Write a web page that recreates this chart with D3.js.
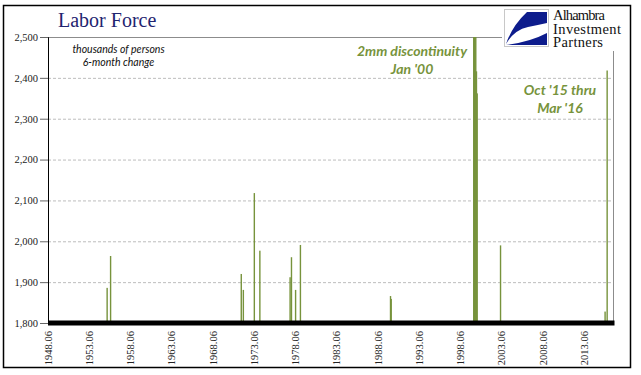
<!DOCTYPE html>
<html>
<head>
<meta charset="utf-8">
<script src="https://cdn.jsdelivr.net/npm/d3@7"></script>
<style>
  body { margin: 0; background: #fff; }
  svg { display: block; }
</style>
</head>
<body>
<svg id="chart" width="641" height="375"></svg>
<script>
// 6-month change in labor force (thousands), only months above 1,800 are visible
const months = [
  '1955-08', '1956-01', '1971-11', '1972-02', '1973-06', '1974-02',
  '1977-10', '1977-12', '1978-06', '1979-01', '1989-12', '1990-01',
  '2000-01', '2000-02', '2000-03', '2000-04', '2000-05', '2000-06',
  '2003-04', '2015-12', '2016-03'
]
const values = [
  1886, 1964, 1920, 1881, 2118, 1977,
  1912, 1961, 1881, 1991, 1866, 1859,
  2900, 2850, 2700, 2600, 2416, 2362,
  1990, 1828, 2418
]
const yTicks = [1800, 1900, 2000, 2100, 2200, 2300, 2400, 2500]
const xTickYears = [1948, 1953, 1958, 1963, 1968, 1973, 1978, 1983, 1988, 1993, 1998, 2003, 2008, 2013]
const annotations = [
  { lines: ['2mm discontinuity', "Jan '00"], x: 412, y: 56 },
  { lines: ["Oct '15 thru", "Mar '16"], x: 560, y: 95 },
]
const logoLines = ['Alhambra', 'Investment', 'Partners']

const parseMonth = d3.timeParse('%Y-%m')
const data = months.map((m, i) => ({ date: parseMonth(m), value: values[i] }))

const svg = d3.select('#chart')
const green = '#77933c'
const serif = '"Liberation Serif", "DejaVu Serif", serif'

const plot = { left: 48, right: 613, top: 37, bottom: 323 }

const x = d3.scaleTime()
  .domain([new Date(1948, 5, 1), new Date(2016, 10, 15)])
  .range([plot.left, plot.right])

const y = d3.scaleLinear()
  .domain([1800, 2500])
  .range([plot.bottom, plot.top])

// outer frame
svg.append('rect')
  .attr('x', 3.5).attr('y', 5.5)
  .attr('width', 627).attr('height', 362)
  .attr('fill', '#fff')
  .attr('stroke', '#000')
  .attr('stroke-width', 1.5)

// gridlines
svg.append('g')
  .attr('id', 'grid')
  .selectAll('line')
  .data(yTicks.filter((d) => d > 1800 && d < 2500))
  .join('line')
  .attr('x1', plot.left).attr('x2', plot.right)
  .attr('y1', (d) => y(d) + 0.5).attr('y2', (d) => y(d) + 0.5)
  .attr('stroke', '#bdbdbd')
  .attr('stroke-dasharray', '3,2')

// plot border top + right
svg.append('path')
  .attr('d', `M${plot.left},${plot.top + 0.5}H${plot.right + 0.5}V${plot.bottom}`)
  .attr('fill', 'none')
  .attr('stroke', '#8c8c8c')

// bars
svg.append('clipPath').attr('id', 'clip')
  .append('rect')
  .attr('x', plot.left).attr('y', plot.top)
  .attr('width', plot.right - plot.left).attr('height', plot.bottom - plot.top)

svg.append('g')
  .attr('id', 'bars')
  .attr('clip-path', 'url(#clip)')
  .selectAll('rect')
  .data(data)
  .join('rect')
  .attr('x', (d) => x(d.date) - 0.7)
  .attr('width', 1.4)
  .attr('y', (d) => y(d.value))
  .attr('height', (d) => y(1800) - y(d.value))
  .attr('fill', green)

// y axis
const yAxis = svg.append('g')
  .attr('id', 'yAxis')
  .attr('transform', `translate(${plot.left},0)`)
  .call(d3.axisLeft(y).tickValues(yTicks).tickSize(8).tickPadding(2).tickFormat(d3.format(',')))
yAxis.select('.domain').attr('stroke', '#000')
yAxis.selectAll('.tick line').attr('stroke', '#666')
yAxis.selectAll('text')
  .attr('font-family', serif)
  .attr('font-size', 10.5)
  .attr('fill', '#222')

// thick baseline
svg.append('rect')
  .attr('x', plot.left).attr('y', y(1800) - 2.5)
  .attr('width', plot.right - plot.left + 1.5).attr('height', 5)
  .attr('fill', '#000')

// x axis labels
svg.append('g')
  .attr('id', 'xAxis')
  .selectAll('text')
  .data(xTickYears.map((yr) => new Date(yr, 5, 1)))
  .join('text')
  .attr('transform', (d) => `translate(${x(d) + 3.5},${plot.bottom + 8}) rotate(-90)`)
  .attr('text-anchor', 'end')
  .attr('font-family', serif)
  .attr('font-size', 10.5)
  .attr('fill', '#222')
  .text(d3.timeFormat('%Y.%m'))

// title
svg.append('text')
  .attr('x', 58).attr('y', 27)
  .attr('font-family', serif)
  .attr('font-size', 20)
  .attr('fill', '#1f2470')
  .text('Labor Force')

// subtitle
svg.append('g')
  .selectAll('text')
  .data(['thousands of persons', '6-month change'])
  .join('text')
  .attr('x', 118.5)
  .attr('y', (d, i) => 53 + i * 12.5)
  .attr('text-anchor', 'middle')
  .attr('font-family', 'Lato, "Open Sans", sans-serif')
  .attr('font-style', 'italic')
  .attr('font-size', 10.5)
  .attr('fill', '#111')
  .text((d) => d)

// annotations
annotations.forEach((a) => {
  svg.append('g')
    .selectAll('text')
    .data(a.lines)
    .join('text')
    .attr('x', a.x)
    .attr('y', (d, i) => a.y + i * 18)
    .attr('text-anchor', 'middle')
    .attr('font-family', 'Lato, "Open Sans", sans-serif')
    .attr('font-style', 'italic')
    .attr('font-weight', 'bold')
    .attr('font-size', 14)
    .attr('fill', green)
    .text((d) => d)
})

// logo
const logo = svg.append('g').attr('id', 'logo')
logo.append('rect')
  .attr('x', 502).attr('y', 7)
  .attr('width', 124).attr('height', 44)
  .attr('fill', '#fff')
logo.append('rect')
  .attr('x', 504.5).attr('y', 9.5)
  .attr('width', 44).attr('height', 37)
  .attr('fill', '#fff')
  .attr('stroke', '#c8c8c8')
logo.append('path')
  .attr('d', 'M547,12 L527,12 Q512,26 506,44 Q514,30 528,27 Q538,25 547,23 Z')
  .attr('fill', '#0d1c8c')
logo.append('path')
  .attr('d', 'M506,45 L547,45 L547,33 Q530,42 506,45 Z')
  .attr('fill', '#0d1c8c')
logo.append('g')
  .selectAll('text')
  .data(logoLines)
  .join('text')
  .attr('x', 553)
  .attr('y', (d, i) => 20 + i * 13.5)
  .attr('font-family', serif)
  .attr('font-size', 14.5)
  .attr('textLength', (d, i) => [52, 68, 50][i])
  .attr('fill', '#111')
  .text((d) => d)
</script>
</body>
</html>
